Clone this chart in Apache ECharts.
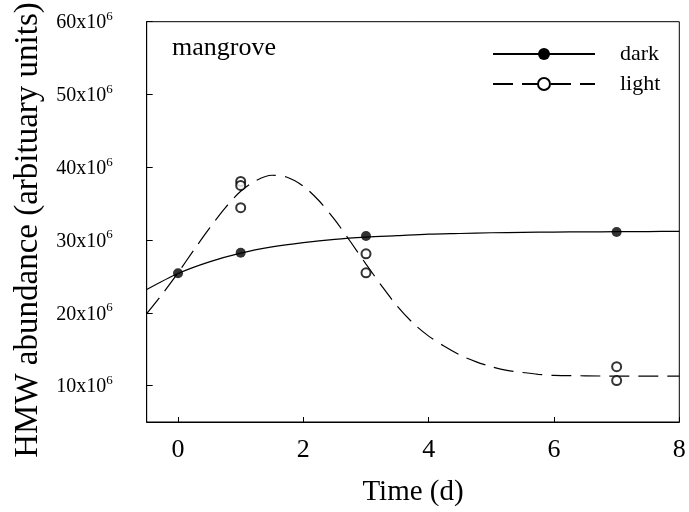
<!DOCTYPE html>
<html><head><meta charset="utf-8">
<script src="https://cdn.jsdelivr.net/npm/echarts@6/dist/echarts.min.js"></script>
<style>html,body{margin:0;padding:0;background:#fff}#c{width:689px;height:512px}</style>
</head><body><div id="c"></div>
<script>
// Measured data points (Time in days, HMW abundance in arbitrary units)
const darkX = [0, 1, 3, 7];
const darkY = [25.45e6, 28.25e6, 30.55e6, 31.1e6];
const lightX = [1, 1, 1, 3, 3, 7, 7];
const lightY = [38.05e6, 37.5e6, 34.45e6, 28.1e6, 25.5e6, 12.6e6, 10.7e6];
// Fitted curves
const darkFitX = [-0.5, 0, 0.5, 1, 1.5, 2, 2.5, 3, 3.5, 4, 4.5, 5, 5.5, 6, 6.5, 7, 7.5, 8];
const darkFitY = [23.2e6, 25.4e6, 27.0e6, 28.2e6, 29.05e6, 29.65e6, 30.1e6, 30.4e6, 30.6e6, 30.8e6, 30.9e6, 31.0e6, 31.05e6, 31.1e6, 31.12e6, 31.15e6, 31.17e6, 31.2e6];
const lightFitX = [-0.5, -0.25, 0, 0.25, 0.5, 0.75, 1, 1.25, 1.5, 1.75, 2, 2.25, 2.5, 2.75, 3, 3.25, 3.5, 3.75, 4, 4.25, 4.5, 4.75, 5, 5.25, 5.5, 5.75, 6, 6.5, 7, 7.5, 8];
const lightFitY = [19.9e6, 22.6e6, 25.5e6, 28.6e6, 31.6e6, 34.4e6, 36.7e6, 38.2e6, 38.9e6, 38.6e6, 37.4e6, 35.4e6, 32.8e6, 29.8e6, 26.7e6, 23.7e6, 20.9e6, 18.6e6, 16.8e6, 15.4e6, 14.2e6, 13.3e6, 12.6e6, 12.1e6, 11.8e6, 11.55e6, 11.4e6, 11.35e6, 11.3e6, 11.3e6, 11.3e6];
const xTickLabels = [0, 2, 4, 6, 8];
const yTickLabels = [10, 20, 30, 40, 50, 60]; // x10^6
const seriesNames = ['dark', 'light'];

const zip = (xs, ys) => xs.map((x, i) => [x, ys[i]]);
const FONT = 'Liberation Serif';

const chart = echarts.init(document.getElementById('c'), null, {renderer: 'canvas'});
chart.setOption({
  animation: false,
  backgroundColor: '#fff',
  textStyle: {fontFamily: FONT, color: '#000'},
  grid: {left: 146.7, right: 9.7, top: 21.7, bottom: 90, show: true, borderColor: '#000', borderWidth: 1},
  xAxis: {
    type: 'value', min: -0.5, max: 8, splitNumber: 4,
    axisLine: {show: true, onZero: false, lineStyle: {color: '#000', width: 1}},
    axisTick: {show: true, inside: true, length: 5, lineStyle: {color: '#000'}},
    splitLine: {show: false},
    axisLabel: {
      showMinLabel: false, margin: 15, fontFamily: FONT, fontSize: 26, color: '#000',
      formatter: v => xTickLabels.indexOf(v) >= 0 ? String(v) : ''
    },
    name: 'Time (d)', nameLocation: 'middle', nameGap: 56,
    nameTextStyle: {fontFamily: FONT, fontSize: 29, color: '#000'}
  },
  yAxis: {
    type: 'value', min: 5e6, max: 60e6, splitNumber: 5,
    axisLine: {show: true, onZero: false, lineStyle: {color: '#000', width: 1}},
    axisTick: {show: true, inside: true, length: 6, lineStyle: {color: '#000'}},
    splitLine: {show: false},
    axisLabel: {
      showMinLabel: false, margin: 34, color: '#000',
      formatter: v => { const m = Math.round(v / 1e6); return (yTickLabels.indexOf(m) >= 0 && Math.abs(v - m * 1e6) < 1) ? '{b|' + m + 'x10}{s|6}' : ''; },
      rich: {
        b: {fontFamily: FONT, fontSize: 20, color: '#000', padding: [3, 0, 0, 0]},
        s: {fontFamily: FONT, fontSize: 13, color: '#000', verticalAlign: 'top'}
      }
    }
  },
  legend: {
    data: seriesNames, orient: 'vertical', left: 487, top: 38,
    itemWidth: 102, itemHeight: 15, itemGap: 8,
    textStyle: {fontFamily: FONT, fontSize: 22, color: '#000', padding: [0, 0, 0, 20]},
    inactiveColor: '#000'
  },
  graphic: [
    {type: 'text', left: 172, top: 35, style: {text: 'mangrove', font: '26px "Liberation Serif"', fill: '#000'}},
    {type: 'text', x: 28, y: 230, rotation: Math.PI / 2,
     style: {text: 'HMW abundance (arbituary units)', font: '33px "Liberation Serif"', fill: '#000', align: 'center', verticalAlign: 'middle'}}
  ],
  series: [
    {name: 'dark', type: 'line', data: zip(darkFitX, darkFitY), showSymbol: false, symbol: 'circle', symbolSize: 12,
     smooth: 0.3, itemStyle: {color: '#000'}, lineStyle: {color: '#000', width: 1.2}, z: 2},
    {name: 'light', type: 'line', data: zip(lightFitX, lightFitY), showSymbol: false, symbol: 'emptyCircle', symbolSize: 12,
     smooth: 0.3, itemStyle: {color: '#000'}, lineStyle: {color: '#000', width: 1.2, type: [20, 9]}, z: 2},
    {name: 'dark', type: 'scatter', data: zip(darkX, darkY), symbol: 'circle', symbolSize: 10,
     itemStyle: {color: '#000'}, z: 4},
    {name: 'light', type: 'scatter', data: zip(lightX, lightY), symbol: 'emptyCircle', symbolSize: 9,
     itemStyle: {color: '#000', borderWidth: 1.2}, z: 3}
  ]
});
</script>
</body></html>
